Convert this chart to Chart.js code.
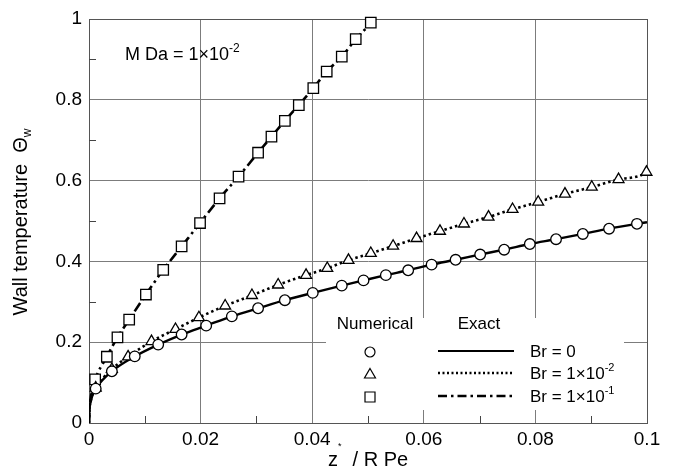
<!DOCTYPE html>
<html>
<head>
<meta charset="utf-8">
<script src="https://cdn.jsdelivr.net/npm/chart.js@4.4.1/dist/chart.umd.min.js"></script>
<style>
  html, body { margin: 0; padding: 0; background: #fff; }
  #wrap { width: 673px; height: 469px; }
</style>
</head>
<body>
<div id="wrap"><canvas id="chart" width="673" height="469"></canvas></div>
<script>
// numerical points
const circX = [0.0012, 0.0041, 0.0082, 0.0124, 0.0166, 0.0210, 0.0256, 0.0303, 0.0351, 0.0401, 0.0453, 0.0492,
  0.0532, 0.0572, 0.0614, 0.0657, 0.0701, 0.0744, 0.0790, 0.0837, 0.0885, 0.0932, 0.0982];
const circY = [0.085, 0.128, 0.165, 0.194, 0.219, 0.241, 0.264, 0.284, 0.304, 0.322, 0.340, 0.353,
  0.366, 0.378, 0.392, 0.404, 0.417, 0.429, 0.443, 0.455, 0.468, 0.481, 0.493];

const triX = [0.0012, 0.0041, 0.0070, 0.0112, 0.0155, 0.0197, 0.0244, 0.0292, 0.0339, 0.0389, 0.0427, 0.0465,
  0.0505, 0.0545, 0.0587, 0.0629, 0.0672, 0.0716, 0.0759, 0.0805, 0.0853, 0.0901, 0.0949, 0.0999];
const triY = [0.087, 0.133, 0.164, 0.202, 0.232, 0.261, 0.290, 0.316, 0.342, 0.366, 0.383, 0.403,
  0.420, 0.438, 0.457, 0.475, 0.493, 0.510, 0.529, 0.547, 0.567, 0.584, 0.603, 0.621];

const sqX = [0.0011, 0.0032, 0.0051, 0.0072, 0.0102, 0.0133, 0.0166, 0.0199, 0.0234, 0.0268, 0.0303, 0.0327,
  0.0351, 0.0376, 0.0402, 0.0426, 0.0453, 0.0478, 0.0505];
const sqY = [0.108, 0.164, 0.212, 0.256, 0.318, 0.379, 0.437, 0.495, 0.556, 0.610, 0.669, 0.709,
  0.748, 0.787, 0.829, 0.870, 0.907, 0.950, 0.991];

// exact curves: start near the origin, then through the markers, to the end of the plot
const exactStartX = [0, 0.0001, 0.0003, 0.0006];
const exact0StartY = [0, 0.035, 0.052, 0.068];
const exact1StartY = [0, 0.036, 0.054, 0.070];
const exact2StartY = [0, 0.040, 0.062, 0.082];
const exact0End = [0.1, 0.497];
const exact1End = [0.1, 0.623];
const exact2End = [0.0509, 1.0];

const xTickLabels = ['0', '0.02', '0.04', '0.06', '0.08', '0.1'];
const yTickLabels = ['0', '0.2', '0.4', '0.6', '0.8', '1'];
const legendLabels = [['Br = 0', ''], ['Br = 1\u00d710', '-2'], ['Br = 1\u00d710', '-1']];

const FONT = '"Liberation Sans", Arial, Helvetica, sans-serif';
const GRID = '#7c7c7c';

function pts(xs, ys) { return xs.map((x, i) => ({ x: x, y: ys[i] })); }
function exact(xs, ys, sx, sy, end) {
  return pts(sx, sy).concat(pts(xs, ys)).concat([{ x: end[0], y: end[1] }]);
}

function marker(data, style, r) {
  return {
    data: data, showLine: false, pointStyle: style, pointRadius: r, pointHoverRadius: r,
    pointBackgroundColor: '#fff', pointBorderColor: '#000', pointBorderWidth: 1.3, clip: false
  };
}
function line(data, dash, w) {
  return {
    data: data, showLine: true, pointRadius: 0, borderColor: '#000', borderWidth: w,
    borderDash: dash, cubicInterpolationMode: 'monotone', fill: false
  };
}

// text with a raised / lowered small part
function richText(ctx, parts, x, y, align) {
  let w = 0;
  parts.forEach(p => { ctx.font = p.size + 'px ' + FONT; w += ctx.measureText(p.t).width; });
  let cx = align === 'center' ? x - w / 2 : x;
  ctx.textAlign = 'left';
  ctx.textBaseline = 'alphabetic';
  parts.forEach(p => {
    ctx.font = p.size + 'px ' + FONT;
    ctx.fillText(p.t, cx, y + (p.dy || 0));
    cx += ctx.measureText(p.t).width;
  });
}

function legendMark(ctx, style, x, y) {
  ctx.save();
  ctx.lineWidth = 1.2; ctx.strokeStyle = '#000'; ctx.fillStyle = '#fff';
  ctx.beginPath();
  if (style === 'circle') ctx.arc(x, y, 5, 0, Math.PI * 2);
  else if (style === 'triangle') { ctx.moveTo(x, y - 5.5); ctx.lineTo(x + 5.5, y + 4); ctx.lineTo(x - 5.5, y + 4); ctx.closePath(); }
  else ctx.rect(x - 5, y - 5, 10, 10);
  ctx.fill(); ctx.stroke();
  ctx.restore();
}

const decor = {
  id: 'decor',
  beforeDatasetsDraw(chart) {
    const ctx = chart.ctx, xs = chart.scales.x, ys = chart.scales.y;
    ctx.save();
    // minor ticks inside the frame
    ctx.strokeStyle = '#444'; ctx.lineWidth = 1;
    for (let i = 1; i < 10; i += 2) {
      const px = Math.round(xs.getPixelForValue(i / 100)) + 0.5;
      ctx.beginPath(); ctx.moveTo(px, ys.bottom); ctx.lineTo(px, ys.bottom - 7); ctx.stroke();
      const py = Math.round(ys.getPixelForValue(i / 10)) + 0.5;
      ctx.beginPath(); ctx.moveTo(xs.left, py); ctx.lineTo(xs.left + 7, py); ctx.stroke();
    }
    // legend box
    ctx.fillStyle = '#fff';
    ctx.fillRect(326, 318, 298, 92);
    ctx.fillStyle = '#000';
    ctx.textAlign = 'center'; ctx.textBaseline = 'middle';
    ctx.font = '17px ' + FONT;
    ctx.fillText('Numerical', 375, 324);
    ctx.fillText('Exact', 479, 324);
    const rows = [351, 373, 396];
    const styles = ['circle', 'triangle', 'rect'];
    const dashes = [[], [2, 2.5], [9, 4, 2.5, 4]];
    rows.forEach((ry, i) => {
      legendMark(ctx, styles[i], 370, ry + 1);
      ctx.save();
      ctx.strokeStyle = '#000'; ctx.lineWidth = i === 0 ? 2.2 : 2.4;
      ctx.setLineDash(dashes[i]);
      ctx.beginPath(); ctx.moveTo(438, ry); ctx.lineTo(514, ry); ctx.stroke();
      ctx.restore();
      richText(ctx, [{ t: legendLabels[i][0], size: 17 }, { t: legendLabels[i][1], size: 11, dy: -8 }], 530, ry + 6, 'left');
    });
    // annotation
    richText(ctx, [{ t: 'M Da = 1\u00d710', size: 18 }, { t: '-2', size: 12, dy: -8 }], 125, 60, 'left');
    ctx.restore();
  },
  afterDraw(chart) {
    const ctx = chart.ctx;
    ctx.save();
    ctx.fillStyle = '#000';
    // x title
    richText(ctx, [{ t: 'z', size: 20 }, { t: '*', size: 9, dy: -17 }, { t: '  / R Pe', size: 20 }], 368, 466, 'center');
    // y title
    ctx.translate(27, 222);
    ctx.rotate(-Math.PI / 2);
    richText(ctx, [{ t: 'Wall temperature  \u0398', size: 20 }, { t: 'w', size: 12, dy: 4 }], 0, 0, 'center');
    ctx.restore();
  }
};

const ctx = document.getElementById('chart').getContext('2d');
new Chart(ctx, {
  type: 'scatter',
  data: {
    datasets: [
      marker(pts(circX, circY), 'circle', 5.3),
      marker(pts(triX, triY), 'triangle', 6.3),
      marker(pts(sqX, sqY), 'rect', 7.4),
      line(exact(circX, circY, exactStartX, exact0StartY, exact0End), [], 2.4),
      line(exact(triX, triY, exactStartX, exact1StartY, exact1End), [2.5, 3], 2.6),
      line(exact(sqX, sqY, exactStartX, exact2StartY, exact2End), [10, 4, 2.5, 4], 2.6)
    ]
  },
  options: {
    responsive: false,
    animation: false,
    layout: { padding: { top: 19, right: 26, left: 0, bottom: 0 } },
    plugins: { legend: { display: false }, tooltip: { enabled: false } },
    scales: {
      x: {
        type: 'linear', min: 0, max: 0.1,
        afterFit: s => { s.height = 46; },
        ticks: {
          stepSize: 0.01, autoSkip: false, maxRotation: 0, padding: 5,
          color: '#000', font: { family: FONT, size: 19 },
          callback: (v) => { const k = Math.round(v * 100); return k % 2 === 0 ? xTickLabels[k / 2] : ''; }
        },
        grid: {
          drawTicks: false, lineWidth: 1,
          color: c => (c.index % 2 === 0 ? (c.index === 10 ? '#555' : GRID) : 'rgba(0,0,0,0)')
        },
        border: { display: true, color: '#555', width: 1 }
      },
      y: {
        type: 'linear', min: 0, max: 1,
        afterFit: s => { s.width = 89; },
        ticks: {
          stepSize: 0.1, autoSkip: false, padding: 7,
          color: '#000', font: { family: FONT, size: 19 },
          callback: (v) => { const k = Math.round(v * 10); return k % 2 === 0 ? yTickLabels[k / 2] : ''; }
        },
        grid: {
          drawTicks: false, lineWidth: 1,
          color: c => (c.index % 2 === 0 ? (c.index === 10 ? '#555' : GRID) : 'rgba(0,0,0,0)')
        },
        border: { display: true, color: '#555', width: 1 }
      }
    }
  },
  plugins: [decor]
});
</script>
</body>
</html>
